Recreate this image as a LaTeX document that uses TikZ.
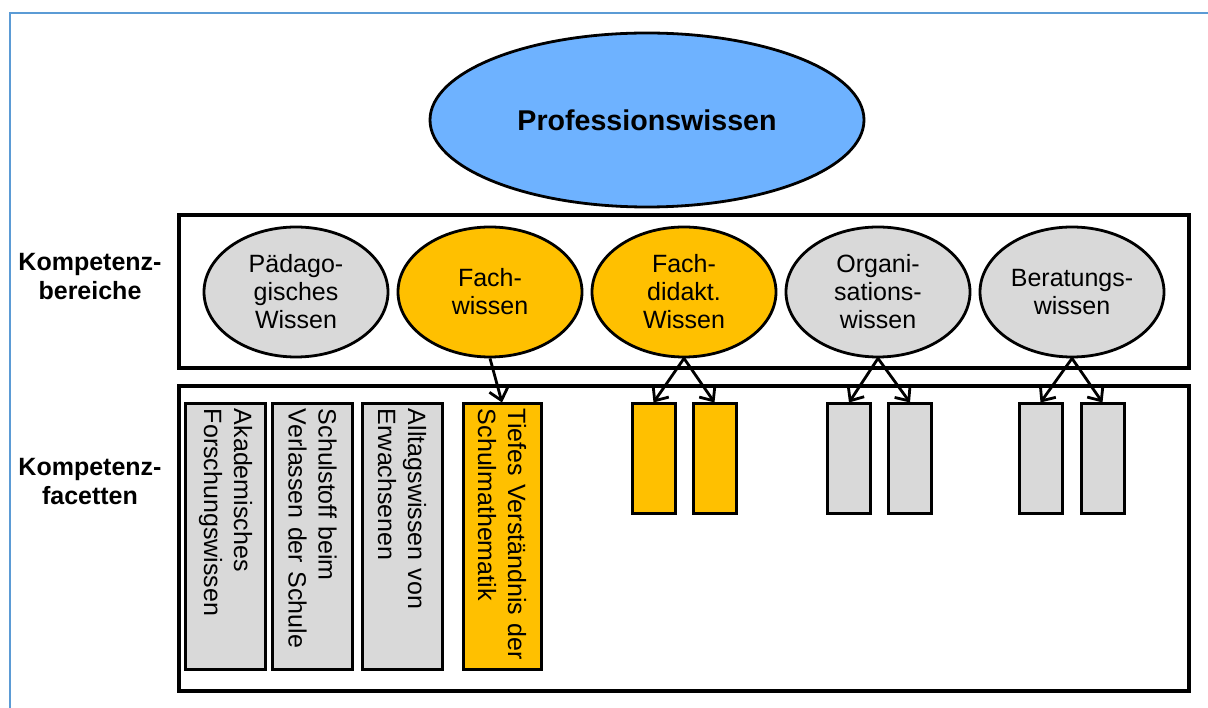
\documentclass[tikz,border=0pt]{standalone}
\usepackage{fontspec}
\setmainfont{Liberation Sans}
\usetikzlibrary{shapes.geometric, arrows.meta}
\definecolor{profblau}{RGB}{110,178,255}
\definecolor{rahmenblau}{RGB}{91,155,213}
\definecolor{fachgelb}{RGB}{255,192,0}
\definecolor{hellgrau}{RGB}{217,217,217}

\begin{document}
\begin{tikzpicture}[x=1pt, y=-1pt,
		bereich/.style={ellipse, draw=black, line width=2.8pt, minimum width=184pt, minimum height=130pt, inner sep=0pt, align=center, font=\fontsize{25}{28}\selectfont},
		facette/.style={draw=black, line width=3pt, minimum width=265pt, minimum height=80pt, text width=255pt, inner xsep=5pt, inner ysep=0pt, align=left, rotate=-90, font=\fontsize{25}{30}\selectfont},
		klein/.style={draw=black, line width=3pt, minimum width=43pt, minimum height=109pt, inner sep=0pt},
		pfeil/.style={line width=2.8pt, -{Straight Barb[length=11pt, width=19pt]}},
		ebene/.style={font=\bfseries\fontsize{25}{29}\selectfont, align=center}]
		\useasboundingbox (0,0) rectangle (1208,708);
		\def\dx{194}
		\def\ey{292}
		\def\ky{458.5}
		% Rahmen
		\draw[rahmenblau, line width=2.5pt] (10,708) -- (10,13) -- (1208,13);
		\draw[line width=3.2pt] (179,215) rectangle (1189,368);
		\draw[line width=3.2pt] (179,386) rectangle (1189,691);
		% Ebenen
		\node[ebene] (lbereiche) at (90,277) {Kompetenz-\\bereiche};
		\node[ebene] (lfacetten) at (90,482) {Kompetenz-\\facetten};
		\node[ellipse, draw=black, line width=2.8pt, fill=profblau, minimum width=434pt, minimum height=174pt, font=\bfseries\fontsize{28.6}{32}\selectfont] (prof) at (647,120) {Professionswissen};
		% Kompetenzbereiche
		\node[bereich, fill=hellgrau] (paed) at (296, \ey) {Pädago-\\gisches\\Wissen};
		\node[bereich, fill=fachgelb] (fach) at (296+\dx, \ey) {Fach-\\wissen};
		\node[bereich, fill=fachgelb] (didakt) at (296+2*\dx, \ey) {Fach-\\didakt.\\Wissen};
		\node[bereich, fill=hellgrau] (orga) at (296+3*\dx, \ey) {Organi-\\sations-\\wissen};
		\node[bereich, fill=hellgrau] (berat) at (296+4*\dx, \ey) {Beratungs-\\wissen};
		% Kompetenzfacetten
		\node[facette, fill=hellgrau] (akad) at (225.5,536.5) {Akademisches\\Forschungswissen};
		\node[facette, fill=hellgrau] (schul) at (312.5,536.5) {Schulstoff beim\\Verlassen der Schule};
		\node[facette, fill=hellgrau] (alltag) at (402,536.5) {Alltagswissen von\\Erwachsenen};
		\node[facette, fill=fachgelb, minimum height=78pt] (tief) at (502,536.5) {Tiefes Verständnis der\\Schulmathematik};
		\node[klein, fill=fachgelb] (didaktA) at (296+2*\dx-30.5, \ky) {};
		\node[klein, fill=fachgelb] (didaktB) at (296+2*\dx+30.5, \ky) {};
		\node[klein, fill=hellgrau] (orgaA) at (296+3*\dx-29, \ky) {};
		\node[klein, fill=hellgrau] (orgaB) at (296+3*\dx+32, \ky) {};
		\node[klein, fill=hellgrau] (beratA) at (296+4*\dx-31.5, \ky) {};
		\node[klein, fill=hellgrau] (beratB) at (296+4*\dx+30.5, \ky) {};
		\draw[pfeil] (fach.south) -- (tief.west);
		\draw[pfeil] (didakt.south) -- (didaktA.north);
		\draw[pfeil] (didakt.south) -- (didaktB.north);
		\draw[pfeil] (orga.south) -- (orgaA.north);
		\draw[pfeil] (orga.south) -- (orgaB.north);
		\draw[pfeil] (berat.south) -- (beratA.north);
		\draw[pfeil] (berat.south) -- (beratB.north);
	\end{tikzpicture}
\end{document}
